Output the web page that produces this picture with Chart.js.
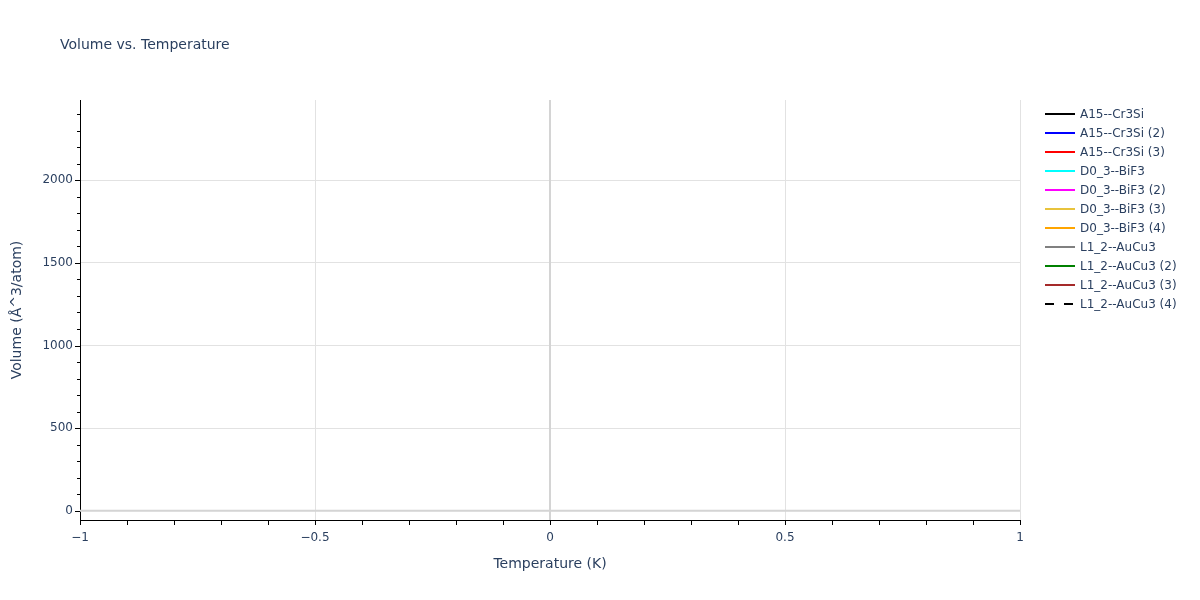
<!DOCTYPE html>
<html>
<head>
<meta charset="utf-8">
<script src="https://cdn.jsdelivr.net/npm/chart.js@4/dist/chart.umd.min.js"></script>
<style>
	html, body { margin: 0; padding: 0; background: #fff; }
	#wrap { width: 1200px; height: 600px; position: relative; }
</style>
</head>
<body>
<div id="wrap"><canvas id="volume_chart" width="1200" height="600"></canvas></div>
<script>
// series names and colours (the source has no visible points in range)
var seriesNames = ['A15--Cr3Si', 'A15--Cr3Si (2)', 'A15--Cr3Si (3)', 'D0_3--BiF3', 'D0_3--BiF3 (2)',
	'D0_3--BiF3 (3)', 'D0_3--BiF3 (4)', 'L1_2--AuCu3', 'L1_2--AuCu3 (2)', 'L1_2--AuCu3 (3)', 'L1_2--AuCu3 (4)'];
var seriesColors = ['#000000', '#0000ff', '#ff0000', '#00ffff', '#ff00ff',
	'#e8c33c', '#ffa500', '#808080', '#008000', '#a52a2a', '#000000'];
var seriesDashed = [false, false, false, false, false, false, false, false, false, false, true];
var seriesData = [[], [], [], [], [], [], [], [], [], [], []];

var xTicks = [-1, -0.5, 0, 0.5, 1];
var yTicks = [0, 500, 1000, 1500, 2000];
var xRange = [-1, 1];
var yRange = [-56, 2486];

var fontFamily = "'DejaVu Sans', Verdana, sans-serif";
var textColor = '#2a3f5f';

var datasets = seriesNames.map(function (name, i) {
	return {
		label: name,
		data: seriesData[i],
		borderColor: seriesColors[i],
		backgroundColor: seriesColors[i],
		borderWidth: 2,
		borderDash: seriesDashed[i] ? [9, 10] : [],
		pointRadius: 0,
		showLine: true
	};
});

function niceTick(v) {
	return Math.round(v * 1000) / 1000;
}

var extras = {
	id: 'plotlyExtras',
	beforeDatasetsDraw: function (chart) {
		// zero lines
		var ctx = chart.ctx, a = chart.chartArea;
		var x0 = chart.scales.x.getPixelForValue(0);
		var y0 = chart.scales.y.getPixelForValue(0);
		ctx.save();
		ctx.strokeStyle = '#d4d4d4';
		ctx.lineWidth = 2;
		ctx.beginPath();
		ctx.moveTo(x0, a.top); ctx.lineTo(x0, a.bottom);
		ctx.moveTo(a.left, y0); ctx.lineTo(a.right, y0);
		ctx.stroke();
		ctx.restore();
	},
	afterDraw: function (chart) {
		var ctx = chart.ctx, a = chart.chartArea;
		var xs = chart.scales.x, ys = chart.scales.y;
		ctx.save();

		// axis tick marks, major and minor
		ctx.strokeStyle = '#000';
		ctx.lineWidth = 1;
		ctx.beginPath();
		var v;
		for (v = -10; v <= 10; v++) {
			var px = Math.round(xs.getPixelForValue(v / 10)) + 0.5;
			ctx.moveTo(px, a.bottom); ctx.lineTo(px, a.bottom + 5);
		}
		for (v = 0; v <= 2400; v += 100) {
			var py = Math.round(ys.getPixelForValue(v)) + 0.5;
			ctx.moveTo(a.left, py); ctx.lineTo(a.left - (v % 500 === 0 ? 5 : 3), py);
		}
		ctx.stroke();

		// title
		ctx.fillStyle = textColor;
		ctx.font = '14px ' + fontFamily;
		ctx.textAlign = 'left';
		ctx.textBaseline = 'middle';
		ctx.fillText('Volume vs. Temperature', 60, 45);

		// legend
		ctx.font = '12px ' + fontFamily;
		chart.data.datasets.forEach(function (ds, i) {
			var ly = 114 + i * 19;
			ctx.strokeStyle = ds.borderColor;
			ctx.lineWidth = 2;
			ctx.setLineDash(ds.borderDash);
			ctx.beginPath();
			ctx.moveTo(1045, ly); ctx.lineTo(1075, ly);
			ctx.stroke();
			ctx.setLineDash([]);
			ctx.fillStyle = textColor;
			ctx.fillText(ds.label, 1080, ly + 1);
		});
		ctx.restore();
	}
};

var ctx = document.getElementById('volume_chart').getContext('2d');
window.volumeChart = new Chart(ctx, {
	type: 'scatter',
	data: { datasets: datasets },
	options: {
		responsive: false,
		animation: false,
		layout: { padding: { left: 0, right: 180, top: 100, bottom: 0 } },
		scales: {
			x: {
				type: 'linear',
				min: xRange[0],
				max: xRange[1],
				afterFit: function (scale) { scale.height = 80; },
				afterBuildTicks: function (scale) {
					scale.ticks = xTicks.map(function (t) { return { value: t }; });
				},
				grid: {
					color: function (c) { return c.tick && c.tick.value === 0 ? 'rgba(0,0,0,0)' : '#e2e2e2'; },
					drawTicks: false
				},
				border: { display: true, color: '#000', width: 1 },
				ticks: {
					padding: 11,
					color: textColor,
					font: { family: fontFamily, size: 12 },
					callback: function (val) {
						var s = String(niceTick(val));
						return s.replace('-', '\u2212');
					}
				},
				title: {
					display: true,
					text: 'Temperature (K)',
					color: textColor,
					font: { family: fontFamily, size: 14 },
					padding: { top: 0, bottom: 27 }
				}
			},
			y: {
				type: 'linear',
				min: yRange[0],
				max: yRange[1],
				afterFit: function (scale) { scale.width = 80; },
				afterBuildTicks: function (scale) {
					scale.ticks = yTicks.map(function (t) { return { value: t }; });
				},
				grid: {
					color: function (c) { return c.tick && c.tick.value === 0 ? 'rgba(0,0,0,0)' : '#e2e2e2'; },
					drawTicks: false
				},
				border: { display: true, color: '#000', width: 1 },
				ticks: {
					padding: 7,
					color: textColor,
					font: { family: fontFamily, size: 12 },
					callback: function (val) { return String(val); }
				},
				title: {
					display: true,
					text: 'Volume (Å^3/atom)',
					color: textColor,
					font: { family: fontFamily, size: 14 },
					padding: { top: 9, bottom: 0 }
				}
			}
		},
		plugins: {
			legend: { display: false },
			tooltip: { enabled: false }
		}
	},
	plugins: [extras]
});
</script>
</body>
</html>
